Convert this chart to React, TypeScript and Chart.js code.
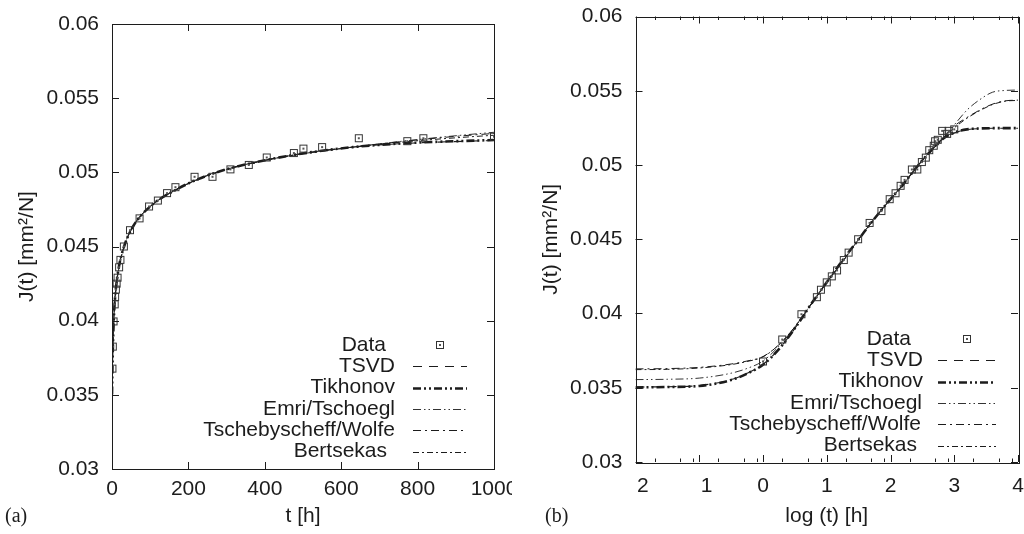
import React, { useEffect, useRef } from "react";
import { Chart, registerables } from "chart.js";

Chart.register(...registerables);

// ---------- data ----------
// measured creep compliance J(t) [mm^2/N] at times t [h]
const dataT = [1, 2, 4, 7, 8.1, 10, 12, 14.5, 18.5, 22, 31, 47, 72, 97, 120, 144, 166, 216, 263, 310, 358, 405, 476, 501, 550, 646, 773, 815, 1000];
const dataJ = [0.03677, 0.03825, 0.03995, 0.0411, 0.0416, 0.0421, 0.0425, 0.0429, 0.0436, 0.0441, 0.045, 0.0461, 0.0469, 0.0477, 0.0481, 0.0486, 0.049, 0.0497, 0.0497, 0.0502, 0.0505, 0.051, 0.0513, 0.0516, 0.0517, 0.0523, 0.0521, 0.0523, 0.0524];

// fitted model curves sampled at log10(t)
const logT = [-2, -1.5, -1, -0.5, -0.25, 0, 0.25, 0.5, 0.75, 1, 1.25, 1.5, 1.75, 2, 2.2, 2.4, 2.6, 2.8, 3, 3.2, 3.4, 3.6, 3.8, 4];
const tsvd = [0.03505, 0.03507, 0.03515, 0.03555, 0.03598, 0.03658, 0.0376, 0.039, 0.0406, 0.0421, 0.0436, 0.045, 0.0464, 0.0477, 0.0487, 0.0498, 0.0508, 0.0517, 0.05215, 0.05238, 0.05245, 0.05247, 0.05247, 0.05247];
const tikhonov = [0.03502, 0.03505, 0.03512, 0.03552, 0.03595, 0.03655, 0.0376, 0.039, 0.0406, 0.0421, 0.0436, 0.045, 0.0464, 0.0477, 0.0487, 0.0498, 0.0508, 0.0517, 0.05218, 0.0524, 0.05246, 0.05248, 0.05248, 0.05248];
const emri = [0.03555, 0.03557, 0.03565, 0.03598, 0.0363, 0.0368, 0.0378, 0.0391, 0.0406, 0.0421, 0.0435, 0.045, 0.0464, 0.0477, 0.0487, 0.0498, 0.0508, 0.0517, 0.0527, 0.0537, 0.0544, 0.0549, 0.05502, 0.05505];
const tscheby = [0.03627, 0.03629, 0.03637, 0.0366, 0.0368, 0.0371, 0.0379, 0.0391, 0.0406, 0.0421, 0.0435, 0.045, 0.0464, 0.0477, 0.0487, 0.0498, 0.0508, 0.0517, 0.05262, 0.0532, 0.0537, 0.0541, 0.05432, 0.05437];
const bertsekas = [0.03622, 0.03624, 0.03633, 0.03656, 0.03677, 0.03708, 0.0379, 0.0391, 0.0406, 0.0421, 0.0435, 0.045, 0.0464, 0.0477, 0.0487, 0.0498, 0.0508, 0.0517, 0.0525, 0.05315, 0.05366, 0.05407, 0.0543, 0.05435];

const seriesNames = ["TSVD", "Tikhonov", "Emri/Tschoegl", "Tschebyscheff/Wolfe", "Bertsekas"];
const seriesValues = [tsvd, tikhonov, emri, tscheby, bertsekas];

// axis ticks
const yTicksLabelStep = 0.005;
const xStepA = 200;
const xStepB = 1;
const minorDecadeOffsets = [0.301, 0.699, 0.903];

// ---------- styles ----------
const INK = "#1c1c1c";
const SANS = '"Liberation Sans", Arial, Helvetica, sans-serif';
const SERIF = '"Liberation Serif", "Times New Roman", serif';
const seriesStyles = [
  { width: 1.1, dash: [9, 7] },
  { width: 2.6, dash: [8, 3, 2, 3, 2, 3] },
  { width: 0.9, dash: [8, 3, 1.5, 3, 1.5, 3] },
  { width: 1.0, dash: [8, 4, 2, 4] },
  { width: 1.0, dash: [6, 3, 2, 3] },
];

function makeMarker(): HTMLCanvasElement {
  const c = document.createElement("canvas");
  c.width = 10;
  c.height = 10;
  const g = c.getContext("2d")!;
  g.strokeStyle = "#333";
  g.lineWidth = 1;
  g.strokeRect(1.5, 1.5, 7, 7);
  g.fillStyle = "#555";
  g.fillRect(4, 4, 2, 2);
  return c;
}

type Layout = {
  isA: boolean;
  padRight: number;
  padTop: number;
  yWidth: number;
  xHeight: number;
  xTickPad: number;
  yTitlePad: number;
  legendRight: number[];
  legendY0: number;
  legendDy: number;
  sampleX1: number;
  sampleX2: number;
  markerX: number;
  panelLabel: string;
  panelX: number;
  panelY: number;
};

function buildChart(canvas: HTMLCanvasElement, L: Layout): Chart {
  const marker = makeMarker();
  const isA = L.isA;
  const xOfLog = (l: number) => (isA ? Math.pow(10, l) : l);
  const xOfT = (t: number) => (isA ? t : Math.log10(t));

  const datasets: any[] = [
    {
      label: "Data",
      data: dataT.map((t, i) => ({ x: xOfT(t), y: dataJ[i] })),
      showLine: false,
      pointStyle: marker,
      pointRadius: 5,
      borderColor: "#333",
      backgroundColor: "#333",
    },
    ...seriesValues.map((s, k) => ({
      label: seriesNames[k],
      data: logT.map((l, i) => ({ x: xOfLog(l), y: s[i] })),
      borderColor: INK,
      borderWidth: seriesStyles[k].width,
      borderDash: seriesStyles[k].dash,
      pointRadius: 0,
      cubicInterpolationMode: "monotone",
      fill: false,
    })),
  ];

  const decor = {
    id: "decor",
    afterDraw(chart: any) {
      const { ctx, chartArea: ca, scales } = chart;
      const xs = scales.x;
      const ys = scales.y;
      const r = (v: number) => Math.round(v) + 0.5;
      ctx.save();
      ctx.setLineDash([]);
      ctx.strokeStyle = INK;
      ctx.lineWidth = 1;
      ctx.strokeRect(r(ca.left), r(ca.top), Math.round(ca.right - ca.left), Math.round(ca.bottom - ca.top));
      const seg = (x1: number, y1: number, x2: number, y2: number) => {
        ctx.beginPath();
        ctx.moveTo(x1, y1);
        ctx.lineTo(x2, y2);
        ctx.stroke();
      };
      const major = 7;
      const minor = 3.5;
      xs.ticks.forEach((t: any) => {
        const px = r(xs.getPixelForValue(t.value));
        seg(px, ca.bottom, px, ca.bottom - major);
        seg(px, ca.top, px, ca.top + major);
      });
      ys.ticks.forEach((t: any) => {
        const py = r(ys.getPixelForValue(t.value));
        seg(ca.left, py, ca.left + major, py);
        seg(ca.right, py, ca.right - major, py);
      });
      if (!isA) {
        for (let d = Math.floor(xs.min); d < xs.max; d++) {
          minorDecadeOffsets.forEach((o) => {
            const v = d + o;
            if (v <= xs.min || v >= xs.max) return;
            const px = r(xs.getPixelForValue(v));
            seg(px, ca.bottom, px, ca.bottom - minor);
            seg(px, ca.top, px, ca.top + minor);
          });
        }
      }
      // legend (gnuplot style)
      ctx.font = `21px ${SANS}`;
      ctx.fillStyle = INK;
      ctx.textAlign = "right";
      ctx.textBaseline = "middle";
      const names = ["Data", ...seriesNames];
      names.forEach((name, i) => {
        const y = L.legendY0 + i * L.legendDy;
        ctx.fillText(name, L.legendRight[i], y);
        if (i === 0) {
          ctx.drawImage(marker, Math.round(L.markerX - 5), Math.round(y - 5));
        } else {
          const st = seriesStyles[i - 1];
          ctx.lineWidth = st.width;
          ctx.setLineDash(st.dash);
          seg(L.sampleX1, r(y), L.sampleX2, r(y));
          ctx.setLineDash([]);
        }
      });
      ctx.font = `20px ${SERIF}`;
      ctx.textAlign = "left";
      ctx.fillText(L.panelLabel, L.panelX, L.panelY);
      ctx.restore();
    },
  };

  return new Chart(canvas, {
    type: "line",
    data: { datasets },
    options: {
      responsive: false,
      devicePixelRatio: 1,
      animation: false,
      events: [],
      layout: { padding: { left: 0, right: L.padRight, top: L.padTop, bottom: 0 } },
      plugins: { legend: { display: false }, tooltip: { enabled: false } },
      scales: {
        x: {
          type: "linear",
          min: isA ? 0 : -2,
          max: isA ? 1000 : 4,
          grid: { display: false, drawTicks: false },
          border: { display: false },
          ticks: {
            stepSize: isA ? xStepA : xStepB,
            color: INK,
            font: { family: SANS, size: 21 },
            padding: L.xTickPad,
            maxRotation: 0,
            autoSkip: false,
            callback: (v: any) => (v < 0 ? "\u2002\u2009" + Math.abs(v) : String(v)),
          },
          title: {
            display: true,
            text: isA ? "t [h]" : "log (t) [h]",
            color: INK,
            font: { family: SANS, size: 21 },
            padding: { top: 0, bottom: 5 },
          },
          afterFit: (s: any) => {
            s.height = L.xHeight;
            s.paddingLeft = 0;
            s.paddingRight = 0;
          },
        },
        y: {
          type: "linear",
          min: 0.03,
          max: 0.06,
          grid: { display: false, drawTicks: false },
          border: { display: false },
          ticks: {
            stepSize: yTicksLabelStep,
            color: INK,
            font: { family: SANS, size: 21 },
            padding: 13,
            callback: (v: any) => String(Number(Number(v).toFixed(3))),
          },
          title: {
            display: true,
            text: "J(t) [mm\u00b2/N]",
            color: INK,
            font: { family: SANS, size: 21 },
            padding: { top: L.yTitlePad, bottom: 0 },
          },
          afterFit: (s: any) => {
            s.width = L.yWidth;
            s.paddingTop = 0;
            s.paddingBottom = 0;
          },
        },
      },
    } as any,
    plugins: [decor],
  } as any);
}

const layoutA: Layout = {
  isA: true,
  padRight: 18,
  padTop: 24,
  yWidth: 112,
  xHeight: 65,
  xTickPad: 8,
  yTitlePad: 15,
  legendRight: [386, 395, 395, 395, 395, 387],
  legendY0: 345,
  legendDy: 21.3,
  sampleX1: 413,
  sampleX2: 467,
  markerX: 440,
  panelLabel: "(a)",
  panelX: 5,
  panelY: 517,
};

const layoutB: Layout = {
  isA: false,
  padRight: 4.5,
  padTop: 16.5,
  yWidth: 123.5,
  xHeight: 72,
  xTickPad: 12,
  yTitlePad: 27,
  legendRight: [399, 411, 411, 410, 409, 405],
  legendY0: 339,
  legendDy: 21.3,
  sampleX1: 426,
  sampleX2: 484,
  markerX: 455,
  panelLabel: "(b)",
  panelX: 33,
  panelY: 517,
};

export default function App() {
  const refA = useRef<HTMLCanvasElement>(null);
  const refB = useRef<HTMLCanvasElement>(null);
  useEffect(() => {
    const a = buildChart(refA.current!, layoutA);
    const b = buildChart(refB.current!, layoutB);
    return () => {
      a.destroy();
      b.destroy();
    };
  }, []);
  return (
    <div style={{ position: "absolute", left: 0, top: 0, width: 1024, height: 534, background: "#fff", display: "flex" }}>
      <canvas ref={refA} width={512} height={534} style={{ display: "block", width: 512, height: 534 }} />
      <canvas ref={refB} width={512} height={534} style={{ display: "block", width: 512, height: 534 }} />
    </div>
  );
}
